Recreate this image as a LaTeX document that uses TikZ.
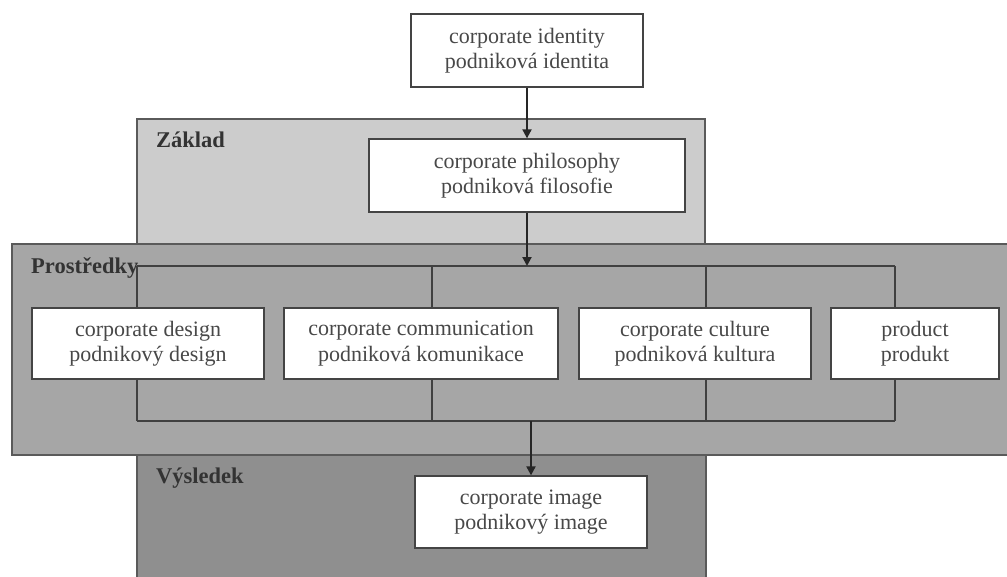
\documentclass[tikz,border=0pt]{standalone}
\usepackage{fontspec}
\setmainfont{Liberation Serif}
\usetikzlibrary{arrows.meta}
\definecolor{zakl}{HTML}{CCCCCC}
\definecolor{pros}{HTML}{A6A6A6}
\definecolor{vys}{HTML}{8F8F8F}
\definecolor{regline}{HTML}{5A5A5A}
\definecolor{boxline}{HTML}{444444}
\definecolor{txt}{HTML}{484848}
\definecolor{lbltxt}{HTML}{333333}
\definecolor{connline}{HTML}{404040}
\begin{document}
\begin{tikzpicture}[x=1pt,y=-1pt,
  box/.style={draw=boxline, line width=1.3pt, fill=white, align=center,
    font=\fontsize{22}{25.5}\selectfont, text=txt, inner sep=0pt},
  region/.style={draw=regline, line width=1.3pt},
  lbl/.style={font=\fontsize{22.5}{26}\selectfont\bfseries, text=lbltxt,
    anchor=base west, inner sep=0pt},
  conn/.style={draw=connline, line width=1.2pt},
  arr/.style={draw=black!85, line width=2pt, -{Triangle[length=9pt,width=9pt]}}]
\useasboundingbox (0,0) rectangle (1007,576);
\begin{scope}
  \path[clip] (0,0) rectangle (1007,576);
  \filldraw[region, fill=zakl] (137,119) rectangle (705,244);
  \filldraw[region, fill=vys] (137,455) rectangle (706,590);
  \filldraw[region, fill=pros] (12,244) rectangle (1020,455);
\end{scope}
% boxes
\node[box, minimum width=232pt, minimum height=73pt] (ci) at (527,50.5)
  {corporate identity\\podniková identita};
\node[box, minimum width=316pt, minimum height=73pt] (phil) at (527,175.5)
  {corporate philosophy\\podniková filosofie};
\node[box, minimum width=232pt, minimum height=71pt] (design) at (148,343.5)
  {corporate design\\podnikový design};
\node[box, minimum width=274pt, minimum height=71pt] (comm) at (421,343.5)
  {corporate communication\\podniková komunikace};
\node[box, minimum width=232pt, minimum height=71pt] (cult) at (695,343.5)
  {corporate culture\\podniková kultura};
\node[box, minimum width=168pt, minimum height=71pt] (prod) at (915,343.5)
  {product\\produkt};
\node[box, minimum width=232pt, minimum height=72pt] (img) at (531,512)
  {corporate image\\podnikový image};
% region labels
\node[lbl] (lz) at (156,147) {Základ};
\node[lbl] (lp) at (31,273) {Prostředky};
\node[lbl] (lv) at (156,483) {Výsledek};
% bracket coordinates
\coordinate (bTL) at (137,266);
\coordinate (bTR) at (895,266);
\coordinate (bBL) at (137,421);
\coordinate (bBR) at (895,421);
\coordinate (v2t) at (432,266);
\coordinate (v3t) at (706,266);
\coordinate (v2b) at (432,421);
\coordinate (v3b) at (706,421);
% bracket
\draw[conn] (bTL) -- (bTR);
\draw[conn] (bBL) -- (bBR);
\draw[conn] (bTL) -- (bTL |- design.north);
\draw[conn] (v2t) -- (v2t |- comm.north);
\draw[conn] (v3t) -- (v3t |- cult.north);
\draw[conn] (bTR) -- (bTR |- prod.north);
\draw[conn] (design.south -| bBL) -- (bBL);
\draw[conn] (comm.south -| v2b) -- (v2b);
\draw[conn] (cult.south -| v3b) -- (v3b);
\draw[conn] (prod.south -| bBR) -- (bBR);
% arrows
\draw[arr] (ci.south) -- (phil.north);
\draw[arr] (phil.south) -- (phil.south |- bTL);
\draw[arr] (img.north |- bBL) -- (img.north);
\end{tikzpicture}
\end{document}
